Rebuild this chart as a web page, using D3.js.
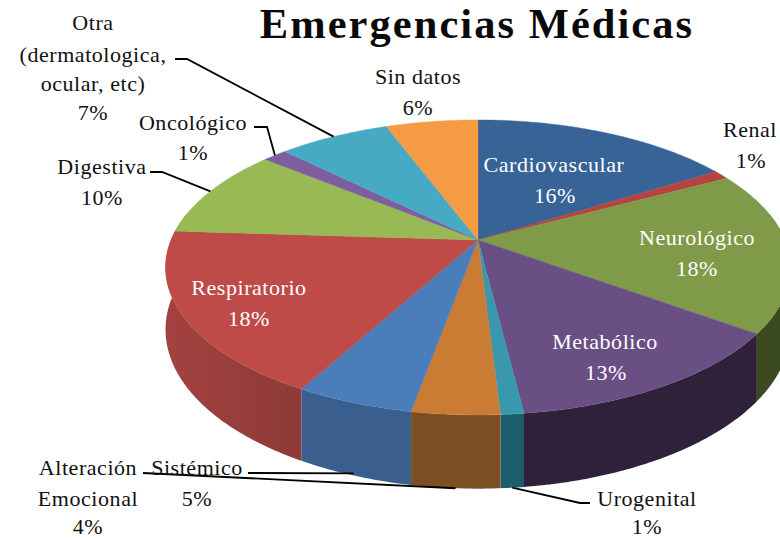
<!DOCTYPE html>
<html><head><meta charset="utf-8">
<script src="https://cdn.jsdelivr.net/npm/d3@7/dist/d3.min.js"></script>
<style>html,body{margin:0;padding:0;background:#fff;overflow:hidden}svg{display:block}text{font-family:"Liberation Serif",serif}</style>
</head><body><svg id="c" width="780" height="539"></svg>
<script>
// Data
const title = "Emergencias Médicas";
const categories = ["Cardiovascular","Renal","Neurológico","Metabólico","Urogenital","Alteración Emocional","Sistémico","Respiratorio","Digestiva","Oncológico","Otra (dermatologica, ocular, etc)","Sin datos"];
const values = [16.2,1,17.8,13.05,1,3.8,5.15,18,9.9,1.5,6.9,5.7];
const percentLabels = ["16%","1%","18%","13%","1%","4%","5%","18%","10%","1%","7%","6%"];
// Styles
const topColors  = ["#386396","#b5433f","#7f9a48","#6a4f85","#3a97b0","#cb7c34","#4a7ebb","#be4b48","#98b954","#7d5fa0","#46aac5","#f59b43"];
const wallColors = ["#27456a","#7e2f2c","#3c4a1f","#2e2139","#1c5d6b","#7c4f22","#3a5f8e","#9a3f3d","#6a8239","#57426f","#307a8c","#a86b2e"];
// Layout: label lines [text, x, baseline], leader elbows
const labelLines = [
  [["Cardiovascular",554,172],["16%",555,203]],
  [["Renal",750,137],["1%",751,168]],
  [["Neurológico",697,245],["18%",697,276]],
  [["Metabólico",605,349],["13%",606,380]],
  [["Urogenital",647,506],["1%",647,534]],
  [["Alteración",88,475],["Emocional",88,506],["4%",88,534]],
  [["Sistémico",197,475],["5%",197,506]],
  [["Respiratorio",249,295],["18%",249,326]],
  [["Digestiva",102,174],["10%",102,205]],
  [["Oncológico",193,130],["1%",193,160]],
  [["Otra",93,30],["(dermatologica,",93,62],["ocular, etc)",93,91],["7%",93,120]],
  [["Sin datos",418,84],["6%",418,115]]
];
const whiteLabels = new Set(["Cardiovascular","Neurológico","Metabólico","Respiratorio"]);
const leaderElbows = {
  "Urogenital":[[590,503],[580,503]],
  "Alteración Emocional":[[143,473]],
  "Sistémico":[[248,473]],
  "Digestiva":[[150,172],[162,172]],
  "Oncológico":[[254,127],[267,127]],
  "Otra (dermatologica, ocular, etc)":[[175,59],[187,59]]
};
const leaderDepth = {"Urogenital":1,"Alteración Emocional":1,"Sistémico":0.97};

const cx=478, cy=240, A=307, B=142.4, K=0.186, DEPTH=60;
const xs=d3.scaleLinear().domain([-1,1]).range([cx-A,cx+A]);
const ys=d3.scaleLinear().domain([-1,1]).range([cy-B,cy+B]);
function project(a,r,dz){
  const u=r*Math.sin(a), v=-r*Math.cos(a), w=1-K*v;
  return [xs(u/w), ys(v/w)+dz/w];
}
const svg=d3.select("#c");
const arcs=d3.pie().sort(null).value(d=>d)(values);
const line=d3.line();
const samples=(a0,a1)=>{const n=Math.max(2,Math.ceil((a1-a0)/0.01));return d3.range(n+1).map(i=>a0+(a1-a0)*i/n);};

const defs=svg.append("defs");
const g=svg.append("g");
const visStart=Math.PI/2-0.19, visEnd=3*Math.PI/2+0.19;
arcs.forEach((d,i)=>{
  const a0=Math.max(d.startAngle,visStart), a1=Math.min(d.endAngle,visEnd);
  if(a1<=a0) return;
  const s=samples(a0,a1);
  const pts=s.map(a=>project(a,1,0)).concat(s.slice().reverse().map(a=>project(a,1,DEPTH)));
  const id="w"+i;
  const gr=defs.append("linearGradient").attr("id",id).attr("gradientUnits","userSpaceOnUse")
    .attr("x1",project(a1,1,0)[0]).attr("x2",project(a0,1,0)[0]).attr("y1",0).attr("y2",0);
  const base=d3.color(wallColors[i]);
  gr.append("stop").attr("offset",0).attr("stop-color",i===7?base.brighter(0.15):base);
  gr.append("stop").attr("offset",1).attr("stop-color",i===7?base.darker(0.25):base);
  g.append("path").attr("d",line(pts)+"Z").attr("fill",`url(#${id})`);
});
arcs.forEach((d,i)=>{
  const pts=[project(0,0,0)].concat(samples(d.startAngle,d.endAngle).map(a=>project(a,1,0)));
  g.append("path").attr("d",line(pts)+"Z").attr("fill",topColors[i]).attr("stroke",topColors[i]).attr("stroke-width",0.4);
});
svg.append("text").text(title).attr("x",477).attr("y",38).attr("text-anchor","middle")
  .attr("font-size",42.5).attr("letter-spacing",2.05).attr("font-weight","bold").attr("fill","#0a0a0a");
categories.forEach((c,i)=>{
  const el=leaderElbows[c]; if(!el) return;
  const mid=(arcs[i].startAngle+arcs[i].endAngle)/2;
  const end=project(mid,1,DEPTH*(leaderDepth[c]||0));
  svg.append("path").attr("d",line(el.concat([end]))).attr("fill","none").attr("stroke","#000").attr("stroke-width",1.8);
});
categories.forEach((c,i)=>{
  labelLines[i].forEach(([t,x,y])=>{
    svg.append("text").text(t).attr("x",x).attr("y",y).attr("text-anchor","middle")
      .attr("font-size",22).attr("letter-spacing",0.55).attr("fill",whiteLabels.has(labelLines[i][0][0])?"#fff":"#111");
  });
});
</script></body></html>
